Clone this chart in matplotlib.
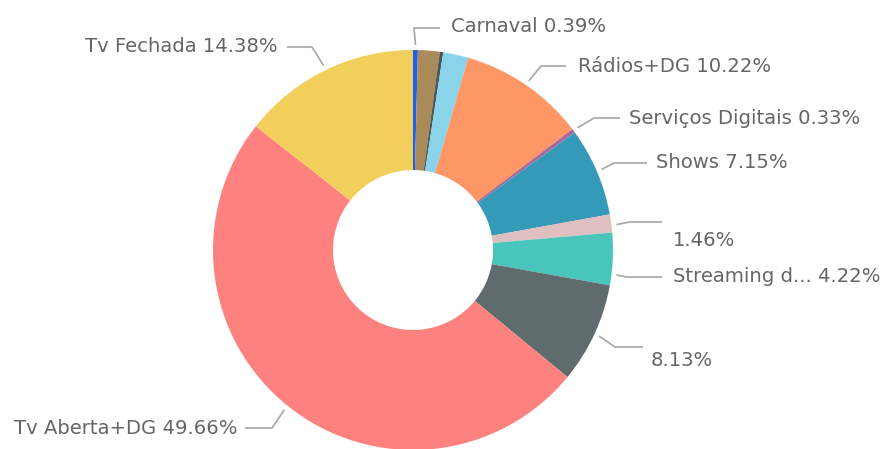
import matplotlib
matplotlib.use("Agg")
import matplotlib.pyplot as plt
import numpy as np

# ---- data ----
categories = ["Carnaval", "Outros A", "Outros B", "Outros C", "Rádios+DG",
              "Serviços Digitais", "Shows", "Outros D", "Streaming d...",
              "Outros E", "Tv Aberta+DG", "Tv Fechada"]
values = [0.39, 1.75, 0.28, 2.03, 10.22, 0.33, 7.15, 1.46, 4.22, 8.13, 49.66, 14.38]
label_texts = ["Carnaval 0.39%", None, None, None, "Rádios+DG 10.22%",
               "Serviços Digitais 0.33%", "Shows 7.15%", "1.46%",
               "Streaming d... 4.22%", "8.13%", "Tv Aberta+DG 49.66%",
               "Tv Fechada 14.38%"]
colors = ["#1a5ff0", "#a88b58", "#4d5658", "#8ad4eb", "#fe9666", "#a66999",
          "#3599b8", "#dfbfbf", "#4ac5bb", "#5f6b6d", "#fd817e", "#f2cf5a"]

# ---- layout (pixel coords, y measured from top) ----
W, H = 885, 449
CX, CY, R, RING = 413, 250, 200, 120
# per label: (angle nudge deg, elbow (x,y), line end x, text x, text y, ha)
layout = {
    0: (0.0, (414, 28), 440, 451, 27, "left"),
    4: (0.0, (541, 66), 566, 578, 66, "left"),
    5: (0.0, (594, 118), 620, 629, 118, "left"),
    6: (0.0, (614, 163), 647, 656, 163, "left"),
    7: (0.5, (630, 222), 662, 673, 240, "left"),
    8: (4.4, (626, 277), 662, 673, 277, "left"),
    9: (0.0, (615, 347), 643, 651, 360, "left"),
    10: (0.0, (272, 428), 245, 237, 428, "right"),
    11: (0.0, (312, 47), 287, 278, 47, "right"),
}

fig = plt.figure(figsize=(W / 100, H / 100), dpi=100)
ax = fig.add_axes([0, 0, 1, 1])
wedges, _ = ax.pie(values, colors=colors, startangle=90, counterclock=False,
                   radius=R, center=(CX, H - CY),
                   wedgeprops=dict(width=RING, linewidth=0))
ax.set_xlim(0, W)
ax.set_ylim(0, H)
ax.set_aspect("equal")
ax.axis("off")

line_col = "#a6a6a6"
text_col = "#666666"
for i, w in enumerate(wedges):
    if label_texts[i] is None or i not in layout:
        continue
    nudge, (ex, ey), endx, tx, ty, ha = layout[i]
    mid = np.deg2rad((w.theta1 + w.theta2) / 2 - nudge)
    sx = CX + 205 * np.cos(mid)
    sy = (H - CY) + 205 * np.sin(mid)
    ax.plot([sx, ex, endx], [sy, H - ey, H - ey], color=line_col, lw=1.2,
            solid_capstyle="butt")
    ax.text(tx, H - ty, label_texts[i], ha=ha, va="center", color=text_col,
            fontsize=14.1, family="DejaVu Sans")

fig.savefig("out.png", dpi=100)
